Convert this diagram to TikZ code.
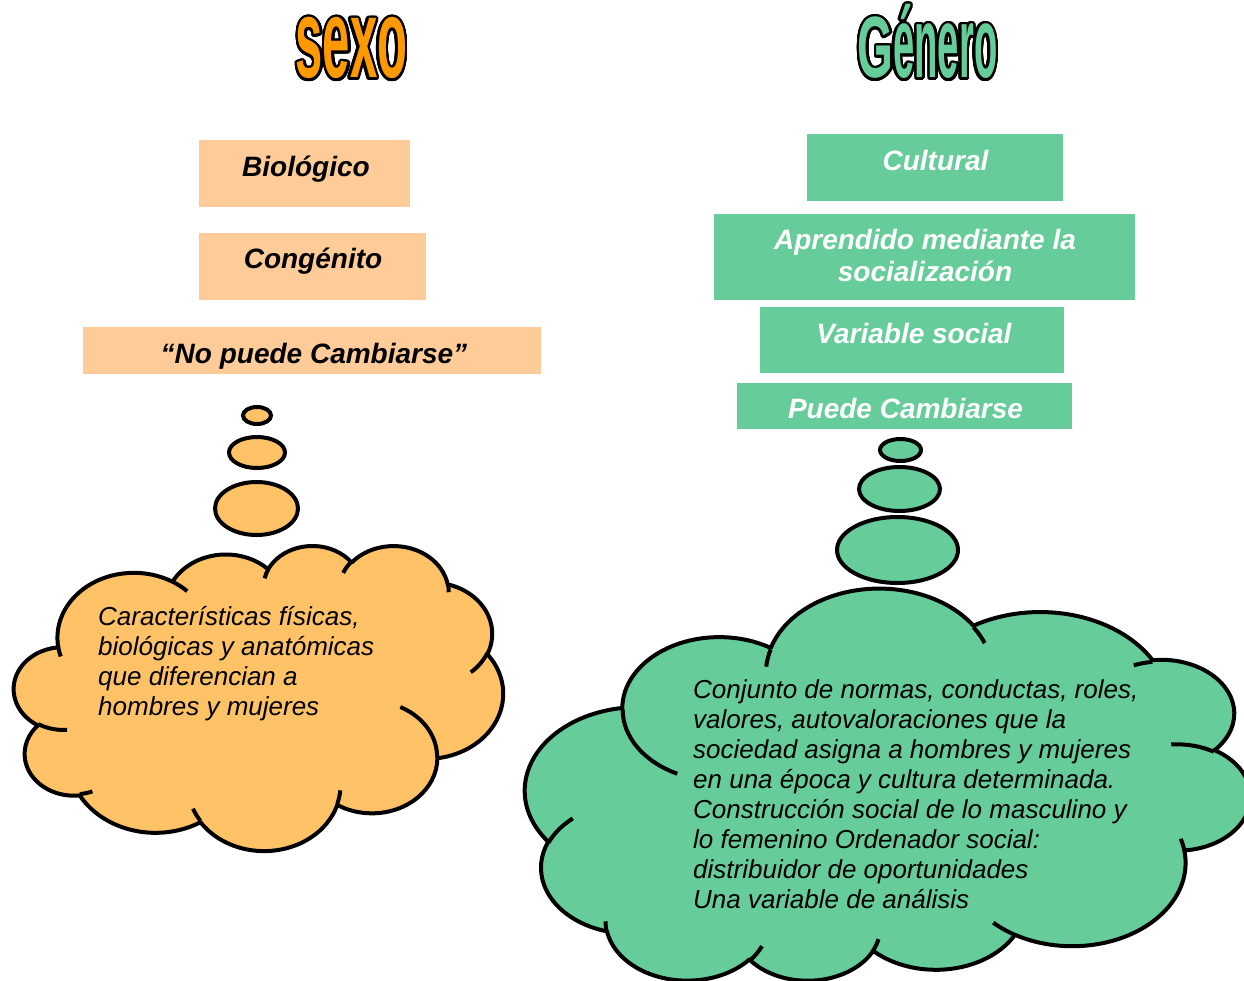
\documentclass[tikz,border=0pt]{standalone}
\usepackage{fontspec}
\setmainfont{Liberation Sans}
\usepackage{graphicx}
\usetikzlibrary{calc}
\definecolor{peach}{HTML}{FFCC99}
\definecolor{sea}{HTML}{66CC99}
\definecolor{cloudor}{HTML}{FFC266}
\definecolor{titleor}{HTML}{FF9900}
\tikzset{
  declare function={cpa(\w,\h,\a)=atan2(\w*sin(\a),\h*cos(\a));
                    cdd(\w,\h,\a,\s)=mod(cpa(\w,\h,\a+\s)-cpa(\w,\h,\a)+720,360);},
  lbox/.style={rectangle, fill=peach, draw=none, inner sep=0},
  gbox/.style={rectangle, fill=sea, draw=none, inner sep=0},
  ltext/.style={anchor=base, inner sep=0, font=\bfseries\itshape\fontsize{28pt}{32pt}\selectfont, text=black},
  gtext/.style={ltext, text=white},
  bubble/.style={line width=4pt, draw=black},
  cloudline/.style={line width=4pt, line join=round},
  cloudtext/.style={anchor=base west, inner sep=0, text=black},
}
\newcommand\CA[4]{arc[start angle={cpa(#1,#2,#3)}, delta angle={cdd(#1,#2,#3,#4)}, x radius=#1, y radius=#2]}
\newcommand\cloudmain{(39.00,143.70)
 \CA{67.53}{91.90}{-190.48748}{123.78053}
 \CA{53.33}{72.67}{-144.10238}{89.94523}
 \CA{43.65}{59.45}{-145.80792}{99.72302}
 \CA{48.57}{65.95}{-130.98607}{117.24173}
 \CA{53.33}{72.73}{-78.70888}{109.02692}
 \CA{67.75}{92.20}{-46.26725}{130.269}
 \CA{57.85}{78.67}{0.62502}{114.03333}
 \CA{67.52}{92.15}{22.4516}{115.17255}
 \CA{77.20}{105.43}{66.24263}{75.71102}
 \CA{43.60}{59.18}{-274.94208}{146.73557}
 \CA{43.45}{59.45}{-246.8285}{152.51885}
 -- cycle}
\newcommand\cloudcreases{
 (46.93,261.77) \CA{43.45}{59.45}{86.742}{26.4295}
 (69.28,348.99) \CA{43.60}{59.18}{73.61047}{11.44747}
 (164.78,390.90) \CA{67.52}{92.15}{137.62415}{14.0811}
 (288.27,347.51) \CA{67.52}{92.15}{6.45327}{15.99835}
 (341.29,229.54) \CA{57.85}{78.67}{-70.29235}{70.91737}
 (417.98,153.54) \CA{53.33}{72.73}{30.31803}{27.7515}
 (383.24,54.26) \CA{48.57}{65.95}{-13.74433}{14.8589}
 (290.78,39.52) \CA{48.57}{65.95}{-149.18145}{18.19537}
 (221.41,47.20) \CA{43.65}{59.45}{-163.49427}{17.68635}
 (140.00,51.92) \CA{67.53}{91.90}{-66.70695}{12.31935}
 (41.27,157.89) \CA{67.53}{91.90}{157.65435}{11.85817}
}
\newcommand\wordart[4]{%
  \foreach \k in {1,...,24}{\node[anchor=base, inner sep=0, text=black] (#1o\k) at ($(#2)+(\k*15:2.6pt)$) {#4};}
  \node[anchor=base, inner sep=0, text=#3] (#1) at (#2) {#4};}
\begin{document}
\begin{tikzpicture}[x=1pt,y=-1pt]
\useasboundingbox (0,0) rectangle (1244,981);
\clip (0,0) rectangle (1244,981);

% titles
\wordart{sexo}{351.5,78}{titleor}{\scalebox{0.49}[1.12]{\fontsize{100pt}{100pt}\selectfont\bfseries sexo}}
\wordart{genero}{927.5,78}{sea}{\scalebox{0.46}[0.87]{\fontsize{100pt}{100pt}\selectfont\bfseries G}\scalebox{0.382}[1]{\fontsize{100pt}{100pt}\selectfont\bfseries énero}}

% left boxes
\node[lbox, minimum width=211pt, minimum height=67pt] (b1) at (304.5,173.5) {};
\node[ltext] (t1) at (306,177) {Biológico};
\node[lbox, minimum width=227pt, minimum height=67pt] (b2) at (312.5,266.5) {};
\node[ltext] (t2) at (313,269) {Congénito};
\node[lbox, minimum width=458pt, minimum height=47pt] (b3) at (312,350.5) {};
\node[ltext] (t3) at (314,363) {“No puede Cambiarse”};

% right boxes
\node[gbox, minimum width=256pt, minimum height=67pt] (g1) at (935,167.5) {};
\node[gtext] (u1) at (935.5,171) {Cultural};
\node[gbox, minimum width=421pt, minimum height=86pt] (g2) at (924.5,257) {};
\node[gtext] (u2) at (925,250) {\parbox[t]{400pt}{\centering\fontsize{28pt}{32pt}\selectfont Aprendido mediante la\\ socialización}};
\node[gbox, minimum width=304pt, minimum height=66pt] (g3) at (912,340) {};
\node[gtext] (u3) at (914,343) {Variable social};
\node[gbox, minimum width=335pt, minimum height=46pt] (g4) at (904.5,406) {};
\node[gtext] (u4) at (905.5,418) {Puede Cambiarse};

% left bubbles
\draw[bubble, fill=cloudor] (257,415.5) ellipse[x radius=14, y radius=8.5];
\draw[bubble, fill=cloudor] (257,452.5) ellipse[x radius=28, y radius=15.5];
\draw[bubble, fill=cloudor] (256.5,508.5) ellipse[x radius=41.5, y radius=26.5];

% right bubbles
\draw[bubble, fill=sea] (900.5,450) ellipse[x radius=20.5, y radius=11];
\draw[bubble, fill=sea] (899.5,489) ellipse[x radius=40.5, y radius=22];
\draw[bubble, fill=sea] (897.5,550) ellipse[x radius=60.5, y radius=33];

% left cloud
\begin{scope}[shift={(14,545)}, xscale=489/432, yscale=305/432]
  \fill[cloudor] \cloudmain;
  \draw[cloudline] \cloudmain;
  \draw[cloudline] \cloudcreases;
\end{scope}
% right cloud (rotated)
\begin{scope}[shift={(1250,982)}, xscale=-725/432, yscale=-392/432]
  \fill[sea] \cloudmain;
  \draw[cloudline] \cloudmain;
  \draw[cloudline] \cloudcreases;
\end{scope}

\node[cloudtext] (lc) at (98,625) {\parbox[t]{400pt}{\raggedright\itshape\fontsize{26pt}{30pt}\selectfont
Características físicas,\\
biológicas y anatómicas\\
que diferencian a\\
hombres y mujeres}};
\node[cloudtext] (rc) at (693,698) {\parbox[t]{520pt}{\raggedright\itshape\fontsize{26pt}{30pt}\selectfont
Conjunto de normas, conductas, roles,\\
valores, autovaloraciones que la\\
sociedad asigna a hombres y mujeres\\
en una época y cultura determinada.\\
Construcción social de lo masculino y\\
lo femenino Ordenador social:\\
distribuidor de oportunidades\\
Una variable de análisis}};
\end{tikzpicture}
\end{document}
